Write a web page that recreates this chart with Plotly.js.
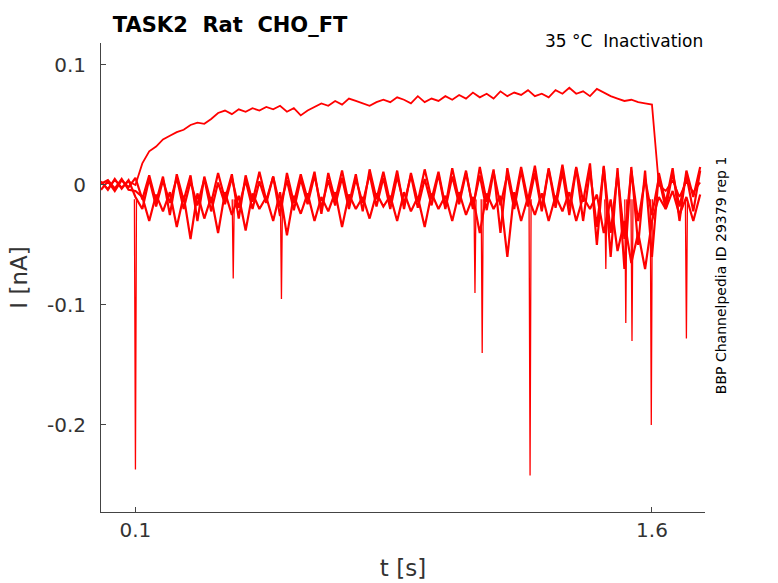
<!DOCTYPE html>
<html><head><script src="https://cdn.plot.ly/plotly-3.0.1.min.js"></script></head>
<body style="margin:0">
<div id="g" style="width:778px;height:583px"></div>
<script>
const t=[0,0.02,0.04,0.06,0.08,0.1,0.12,0.14,0.16,0.18,0.2,0.22,0.24,0.26,0.28,0.3,0.32,0.34,0.36,0.38,0.4,0.42,0.44,0.46,0.48,0.5,0.52,0.54,0.56,0.58,0.6,0.62,0.64,0.66,0.68,0.7,0.72,0.74,0.76,0.78,0.8,0.82,0.84,0.86,0.88,0.9,0.92,0.94,0.96,0.98,1.0,1.02,1.04,1.06,1.08,1.1,1.12,1.14,1.16,1.18,1.2,1.22,1.24,1.26,1.28,1.3,1.32,1.34,1.36,1.38,1.4,1.42,1.44,1.46,1.48,1.5,1.52,1.54,1.56,1.58,1.6,1.62,1.64,1.66,1.68,1.7,1.72,1.74];
const iUpper=[0.002,-0.003,0.004,-0.002,0.003,0.0,0.018,0.028,0.032,0.038,0.041,0.044,0.046,0.05,0.052,0.051,0.055,0.06,0.062,0.059,0.063,0.061,0.064,0.062,0.065,0.063,0.066,0.061,0.064,0.058,0.062,0.065,0.068,0.066,0.07,0.067,0.072,0.07,0.068,0.066,0.069,0.071,0.069,0.073,0.071,0.068,0.074,0.069,0.072,0.07,0.074,0.071,0.075,0.072,0.077,0.073,0.076,0.072,0.078,0.074,0.077,0.075,0.079,0.074,0.076,0.073,0.079,0.076,0.081,0.076,0.078,0.074,0.08,0.077,0.074,0.072,0.07,0.071,0.069,0.068,0.067,0.0,-0.005,0.004,-0.01,0.003,-0.006,0.002];
const iB=[0.003,-0.004,0.005,-0.003,0.004,-0.01,-0.02,0.005,-0.018,0.004,-0.015,0.006,-0.02,0.003,-0.017,0.005,-0.022,0.002,-0.016,0.006,-0.019,0.004,-0.02,0.003,-0.015,0.007,-0.018,0.004,-0.021,0.005,-0.016,0.008,-0.019,0.004,-0.017,0.006,-0.02,0.005,-0.015,0.009,-0.018,0.006,-0.02,0.007,-0.016,0.008,-0.019,0.005,-0.017,0.009,-0.02,0.007,-0.016,0.01,-0.018,0.008,-0.021,0.011,-0.017,0.009,-0.02,0.012,-0.018,0.01,-0.022,0.013,-0.019,0.011,-0.025,0.014,-0.03,0.012,-0.035,0.015,-0.04,0.01,-0.045,0.012,-0.03,0.005,-0.025,0.006,-0.02,0.01,-0.018,0.008,-0.022,0.012];
const iC=[-0.004,0.003,-0.005,0.004,-0.002,0.006,-0.012,0.008,-0.014,0.007,-0.025,0.009,-0.013,0.008,-0.03,0.007,-0.015,0.01,-0.012,0.009,-0.028,0.008,-0.014,0.011,-0.013,0.007,-0.026,0.01,-0.015,0.009,-0.012,0.011,-0.024,0.01,-0.013,0.012,-0.016,0.009,-0.022,0.013,-0.012,0.011,-0.015,0.012,-0.02,0.01,-0.014,0.013,-0.012,0.011,-0.018,0.014,-0.013,0.012,-0.02,0.015,-0.014,0.013,-0.04,0.014,-0.016,0.015,-0.013,0.016,-0.02,0.014,-0.015,0.017,-0.018,0.015,-0.014,0.018,-0.05,0.016,-0.06,0.014,-0.07,0.015,-0.05,0.012,-0.06,0.01,-0.015,0.014,-0.03,0.012,-0.01,0.015];
const iD=[0.001,0.004,-0.003,0.005,-0.004,-0.005,-0.01,-0.03,-0.008,-0.022,-0.006,-0.035,-0.009,-0.045,-0.007,-0.028,-0.01,-0.04,-0.006,-0.025,-0.009,-0.038,-0.007,-0.02,-0.01,-0.03,-0.006,-0.042,-0.009,-0.024,-0.007,-0.03,-0.01,-0.022,-0.006,-0.035,-0.008,-0.02,-0.01,-0.028,-0.007,-0.018,-0.009,-0.03,-0.006,-0.022,-0.01,-0.035,-0.007,-0.02,-0.009,-0.03,-0.006,-0.025,-0.01,-0.04,-0.007,-0.02,-0.009,-0.06,-0.006,-0.03,-0.01,-0.025,-0.007,-0.03,-0.009,-0.022,-0.006,-0.03,-0.01,-0.02,-0.008,-0.04,-0.012,-0.055,-0.03,-0.065,-0.04,-0.07,-0.03,-0.01,-0.02,-0.005,-0.025,-0.01,-0.03,-0.008];
const spikeT=[0.1,0.384,0.524,1.086,1.107,1.246,1.466,1.524,1.542,1.598,1.70];
const spikeI=[-0.237,-0.078,-0.095,-0.09,-0.14,-0.242,-0.07,-0.115,-0.13,-0.2,-0.128];
const sx=[],sy=[];
spikeT.forEach((x,k)=>{sx.push(x-0.003,x,x+0.003,null);sy.push(-0.012,spikeI[k],-0.012,null);});
const ln={color:'#ff0000',width:1.3};
const lb={color:'#ff0000',width:2.2};
const data=[
 {x:t,y:iB,mode:'lines',line:lb},
 {x:t,y:iC,mode:'lines',line:lb},
 {x:t,y:iD,mode:'lines',line:lb},
 {x:sx,y:sy,mode:'lines',line:ln,connectgaps:false},
 {x:t,y:iUpper,mode:'lines',line:{color:'#ff0000',width:1.8}}
];
const f='DejaVu Sans, sans-serif';
Plotly.newPlot('g',data,{
 width:778,height:583,showlegend:false,
 margin:{l:101,r:73,t:43,b:71},
 paper_bgcolor:'#fff',plot_bgcolor:'#fff',
 title:{text:'<b>TASK2  Rat  CHO_FT</b>',x:0.145,xanchor:'left',y:0.97,font:{family:f,size:21,color:'#000'}},
 xaxis:{range:[0,1.754],tickvals:[0.1,1.6],ticktext:['0.1','1.6'],showgrid:false,zeroline:false,showline:true,linecolor:'#444',ticks:'inside',ticklen:5,tickfont:{family:f,size:20,color:'#333'},title:{text:'t [s]',font:{family:f,size:23,color:'#333'},standoff:18}},
 yaxis:{range:[-0.2725,0.1183],tickvals:[0.1,0,-0.1,-0.2],ticktext:['0.1','0','-0.1','-0.2'],showgrid:false,zeroline:false,showline:true,linecolor:'#444',ticks:'inside',ticklen:5,ticklabelstandoff:10,tickfont:{family:f,size:20,color:'#333'},title:{text:'I [nA]',font:{family:f,size:23,color:'#333'},standoff:12}},
 annotations:[
  {text:'35 °C  Inactivation',xref:'paper',yref:'paper',x:1,y:1.03,xanchor:'right',yanchor:'top',showarrow:false,font:{family:f,size:17,color:'#000'}},
  {text:'BBP Channelpedia ID 29379 rep 1',xref:'paper',yref:'paper',x:1.01,y:0.505,xanchor:'left',yanchor:'middle',textangle:-90,showarrow:false,font:{family:f,size:14,color:'#000'}}
 ]
},{displayModeBar:false});
</script></body></html>
